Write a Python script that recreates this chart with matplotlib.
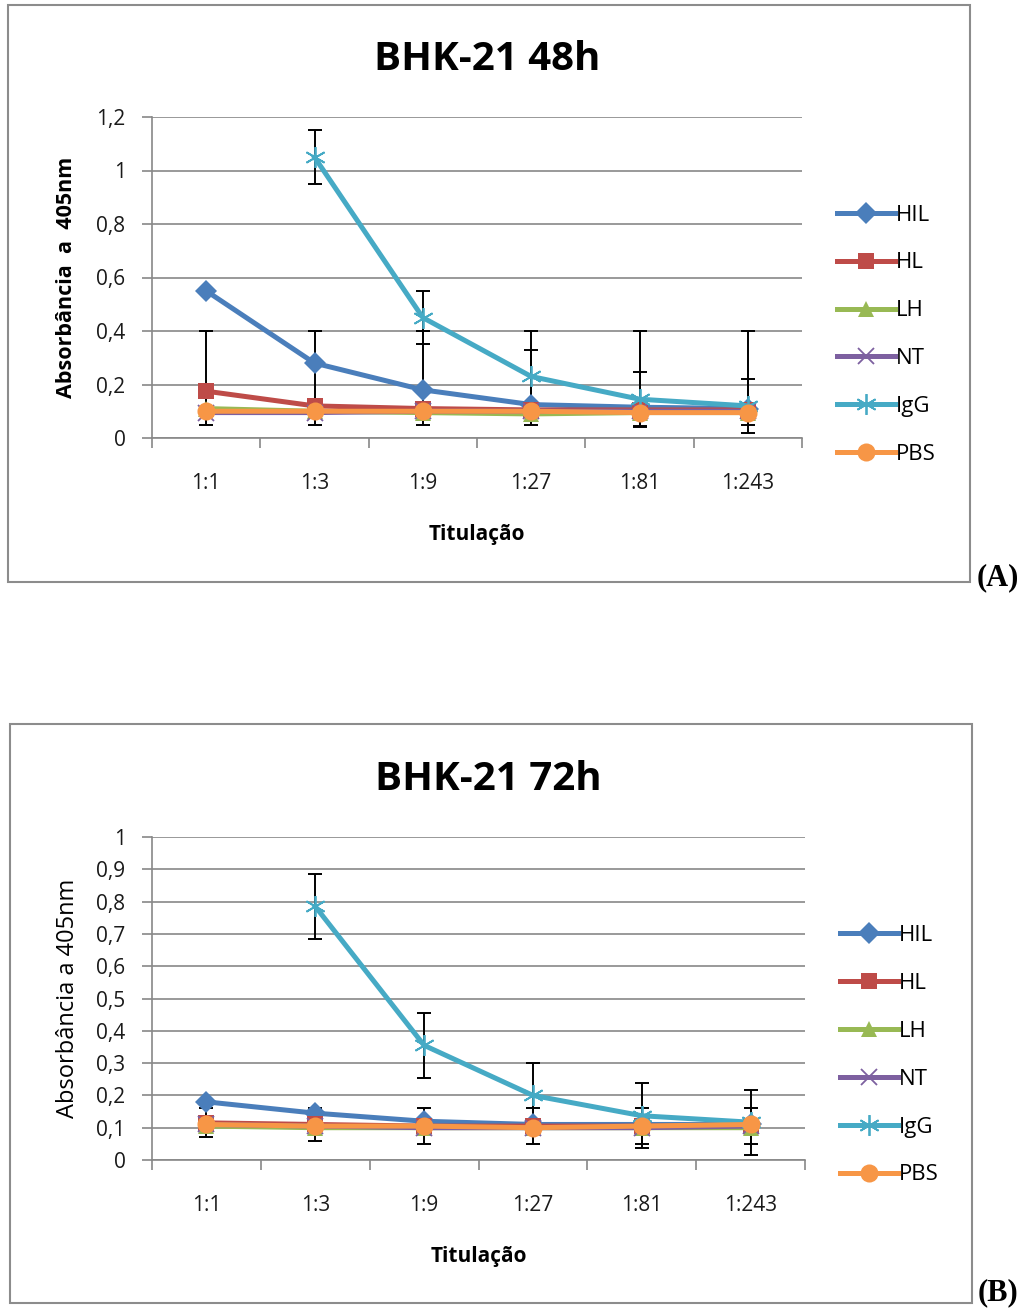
import numpy as np
import matplotlib
matplotlib.use('Agg')
import matplotlib.pyplot as plt
from matplotlib.patches import Rectangle

plt.rcParams['font.family'] = ['Open Sans', 'DejaVu Sans']

# %% data
cats = ['1:1', '1:3', '1:9', '1:27', '1:81', '1:243']
names = ['HIL', 'HL', 'LH', 'NT', 'IgG', 'PBS']

# BHK-21 48h
hil_48 = [0.55, 0.28, 0.18, 0.125, 0.115, 0.11]
hl_48 = [0.175, 0.12, 0.11, 0.105, 0.105, 0.105]
lh_48 = [0.11, 0.10, 0.095, 0.09, 0.095, 0.095]
nt_48 = [0.095, 0.095, 0.10, 0.10, 0.10, 0.10]
igg_48 = [np.nan, 1.05, 0.45, 0.23, 0.145, 0.12]
pbs_48 = [0.10, 0.10, 0.10, 0.10, 0.095, 0.095]
igg_err_48 = [np.nan, 0.10, 0.10, 0.10, 0.10, 0.10]
lh_err_lo_48 = [0.06, 0.05, 0.045, 0.04, 0.055, 0.045]
lh_err_hi_48 = [0.29, 0.30, 0.305, 0.31, 0.305, 0.305]

# BHK-21 72h
hil_72 = [0.18, 0.145, 0.12, 0.11, 0.11, 0.11]
hl_72 = [0.115, 0.11, 0.105, 0.105, 0.105, 0.105]
lh_72 = [0.105, 0.10, 0.10, 0.10, 0.10, 0.10]
nt_72 = [0.11, 0.105, 0.10, 0.10, 0.10, 0.105]
igg_72 = [np.nan, 0.785, 0.355, 0.20, 0.137, 0.117]
pbs_72 = [0.11, 0.105, 0.105, 0.10, 0.105, 0.11]
igg_err_72 = [np.nan, 0.10, 0.10, 0.10, 0.10, 0.10]
hl_err_72 = [0.045, 0.05, 0.055, 0.055, 0.055, 0.055]

yticks_48 = [0, 0.2, 0.4, 0.6, 0.8, 1.0, 1.2]
yticks_72 = [0, 0.1, 0.2, 0.3, 0.4, 0.5, 0.6, 0.7, 0.8, 0.9, 1.0]

# %% styles
colors = ['#4A7EBB', '#BE4B48', '#98B954', '#7D60A0', '#46AAC5', '#F79646']
markers = ['D', 's', '^', 'x', (6, 2, 0), 'o']
msizes = [11, 12, 12, 11, 15, 13]
grid_c = '#888888'


def fmt(v):
    s = ('%g' % round(v, 2)).replace('.', ',')
    return s


def draw_panel(ax, series, yticks, errs, title, bold_ylabel, leg_y):
    x = np.arange(len(cats))
    for i, (name, vals) in enumerate(zip(names, series)):
        ax.plot(x, vals, color=colors[i], lw=3.6, marker=markers[i],
                ms=msizes[i], mew=1.3 if i in (3, 4) else 0,
                mec=colors[i], label=name, zorder=3 + i)
    for idx, lo, hi in errs:
        ax.errorbar(x, series[idx], yerr=[lo, hi], fmt='none', ecolor='black',
                    elinewidth=1.4, capsize=5, capthick=1.4, zorder=2.5)
    ax.set_xlim(-0.5, len(cats) - 0.5)
    ax.set_ylim(0, yticks[-1])
    ax.set_yticks(yticks)
    ax.set_yticklabels([fmt(v) for v in yticks])
    ax.set_xticks(np.arange(-0.5, len(cats)))
    ax.set_xticklabels([])
    ax.set_xticks(x, minor=True)
    ax.set_xticklabels(cats, minor=True)
    ax.tick_params(axis='x', which='major', length=7, color=grid_c, width=1.2)
    ax.tick_params(axis='x', which='minor', length=0, pad=25, labelsize=15,
                   labelcolor='#1a1a1a')
    ax.tick_params(axis='y', length=7, color=grid_c, width=1.2, pad=12,
                   labelsize=15, labelcolor='#1a1a1a')
    ax.grid(axis='y', color=grid_c, lw=1.2)
    ax.set_axisbelow(True)
    for s in ['top', 'right']:
        ax.spines[s].set_visible(False)
    for s in ['left', 'bottom']:
        ax.spines[s].set_color(grid_c)
        ax.spines[s].set_linewidth(1.2)
    ax.set_title(title, fontsize=29, fontweight='bold', pad=34, x=0.515)
    ax.set_xlabel('Titulação', fontsize=15, fontweight='bold', labelpad=22)
    if bold_ylabel:
        ax.set_ylabel('Absorbância  a  405nm', fontsize=15.5, fontweight='bold',
                      labelpad=14)
    else:
        ax.set_ylabel('Absorbância a 405nm', fontsize=17, labelpad=12)
    ax.legend(loc='upper left', bbox_to_anchor=(1.04, leg_y), frameon=False,
              fontsize=16, handlelength=2.6, handletextpad=0.05,
              labelspacing=1.21, borderaxespad=0)


fig = plt.figure(figsize=(10.26, 13.10), dpi=100)
fig.patch.set_facecolor('white')

# chart frames
fig.patches.append(Rectangle((8 / 1026, 1 - 582 / 1310), 962 / 1026, 577 / 1310,
                             transform=fig.transFigure, fill=False,
                             edgecolor='#8C8C8C', lw=1.5))
fig.patches.append(Rectangle((10 / 1026, 1 - 1303 / 1310), 962 / 1026, 579 / 1310,
                             transform=fig.transFigure, fill=False,
                             edgecolor='#8C8C8C', lw=1.5))

ax1 = fig.add_axes([152 / 1026, 1 - 438 / 1310, 650 / 1026, 321 / 1310])
draw_panel(ax1, [hil_48, hl_48, lh_48, nt_48, igg_48, pbs_48], yticks_48,
           [(4, igg_err_48, igg_err_48), (2, lh_err_lo_48, lh_err_hi_48)],
           'BHK-21 48h', True, 0.755)

ax2 = fig.add_axes([152 / 1026, 1 - 1160 / 1310, 653 / 1026, 323 / 1310])
draw_panel(ax2, [hil_72, hl_72, lh_72, nt_72, igg_72, pbs_72], yticks_72,
           [(4, igg_err_72, igg_err_72), (1, hl_err_72, hl_err_72)],
           'BHK-21 72h', False, 0.755)

fig.text(998 / 1026, 1 - 578 / 1310, '(A)', ha='center', va='center',
         fontsize=22, fontweight='bold', family='Liberation Serif')
fig.text(998 / 1026, 1 - 1293 / 1310, '(B)', ha='center', va='center',
         fontsize=22, fontweight='bold', family='Liberation Serif')

fig.savefig('out.png', dpi=100)
